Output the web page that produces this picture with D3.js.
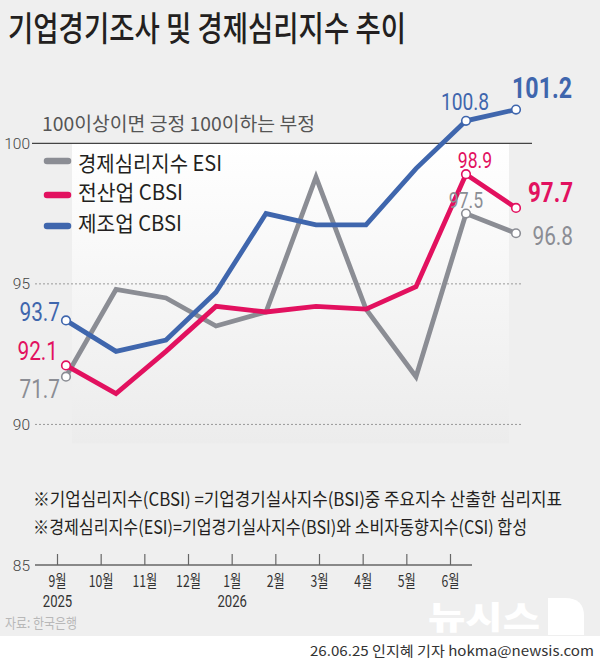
<!DOCTYPE html>
<html><head><meta charset="utf-8">
<script src="https://cdn.jsdelivr.net/npm/d3@7"></script>
<style>
html,body{margin:0;padding:0;background:#efefef;}
svg{display:block;}
</style></head>
<body>
<svg id="c" width="600" height="663"></svg>
<script>
const months = ["9월","10월","11월","12월","1월","2월","3월","4월","5월","6월"];
const years = ["2025","","","","2026","","","","",""];
const esi  = [91.7, 94.8, 94.5, 93.5, 94.0, 98.8, 94.1, 91.7, 97.5, 96.8];
const cbsiAll = [92.1, 91.1, 92.6, 94.2, 94.0, 94.2, 94.1, 94.9, 98.9, 97.7];
const cbsiMfg = [93.7, 92.6, 93.0, 94.7, 97.5, 97.1, 97.1, 99.1, 100.8, 101.2];
const yTicks = [100, 95, 90, 85];
const esiLabels = ["71.7", "97.5", "96.8"];
const allLabels = ["92.1", "98.9", "97.7"];
const mfgLabels = ["93.7", "100.8", "101.2"];
const legendNames = ["경제심리지수 ESI", "전산업 CBSI", "제조업 CBSI"];

const C = {esi:"#8b8d94", all:"#e2115f", mfg:"#3f66ad"};
const svg = d3.select("#c");
const NUM = "Roboto,'Liberation Sans',sans-serif";
const KR = "'Noto Sans CJK KR','Noto Sans',sans-serif";

const y = d3.scaleLinear().domain([85,100]).range([565,143.3]);
const x = d3.scalePoint().domain(months).range([66,516]);
const xAxisScale = d3.scalePoint().domain(months).range([57.5,450.5]);

// Korean text fitted to a width
function kt(t, px, py, size, width, col, weight){
  return svg.append("text").attr("x",px).attr("y",py).attr("font-family",KR).attr("font-size",size)
    .attr("font-weight",weight||400).attr("fill",col||"#231f20")
    .attr("textLength",width).attr("lengthAdjust","spacingAndGlyphs").text(t);
}

// footer white strip
svg.append("rect").attr("x",0).attr("y",636).attr("width",600).attr("height",27).attr("fill","#ffffff");

// panel gradient
const defs = svg.append("defs");
const g = defs.append("linearGradient").attr("id","pg").attr("x1",0).attr("y1",0).attr("x2",0).attr("y2",1);
g.append("stop").attr("offset","0%").attr("stop-color","#ffffff");
g.append("stop").attr("offset","100%").attr("stop-color","#ececec");
svg.append("rect").attr("x",72).attr("y",y(100)).attr("width",437).attr("height",300).attr("fill","url(#pg)");

// title
kt("기업경기조사 및 경제심리지수 추이", 8, 41, 34, 398, "#231f20", 500);

// subtitle
kt("100이상이면 긍정 100이하는 부정", 42, 131, 19, 273, "#555");

// gridlines and y labels
yTicks.forEach(t => {
  if (t === 100) {
    svg.append("line").attr("x1",32).attr("x2",532).attr("y1",y(t)).attr("y2",y(t)).attr("stroke","#444").attr("stroke-width",1.2);
  } else if (t !== 85) {
    svg.append("line").attr("x1",35).attr("x2",522).attr("y1",y(t)).attr("y2",y(t)).attr("stroke","#999").attr("stroke-width",1).attr("stroke-dasharray","2,2");
  }
  svg.append("text").attr("x", 30).attr("y",y(t)+5.5).attr("text-anchor","end").attr("font-family",NUM)
    .attr("font-weight",300).attr("font-size",15.5).attr("fill","#444").text(t);
});

// x axis
const xa = svg.append("g").attr("transform","translate(0,565)");
xa.append("line").attr("x1",35).attr("x2",472).attr("y1",0).attr("y2",0).attr("stroke","#666").attr("stroke-width",1.6);
months.forEach((m,i) => {
  const px = xAxisScale(m);
  xa.append("line").attr("x1",px).attr("x2",px).attr("y1",-11).attr("y2",0).attr("stroke","#666").attr("stroke-width",1.2);
  xa.append("text").attr("transform",`translate(${px},22) scale(0.74,1)`).attr("text-anchor","middle").attr("font-family",KR)
    .attr("font-size",16.5).attr("fill","#333").text(m);
  if (years[i]) xa.append("text").attr("transform",`translate(${px},41.5) scale(0.82,1)`).attr("text-anchor","middle").attr("font-family",NUM)
    .attr("font-size",16).attr("fill","#333").text(years[i]);
});

// legend
const legendRows = [[161,171,144],[195,200,105],[226,231,104]];
legendNames.forEach((n,i) => {
  const [ly, by, w] = legendRows[i];
  const col = [C.esi,C.all,C.mfg][i];
  svg.append("line").attr("x1",47).attr("x2",68).attr("y1",ly).attr("y2",ly).attr("stroke",col)
    .attr("stroke-width",6.5).attr("stroke-linecap","round");
  kt(n, 78, by, 21, w, "#231f20");
});

// lines
const line = d3.line().x((d,i)=>x(months[i])).y(d=>y(d));
[[esi,C.esi],[cbsiAll,C.all],[cbsiMfg,C.mfg]].forEach(([data,col]) => {
  svg.append("path").datum(data).attr("d",line).attr("fill","none").attr("stroke",col)
    .attr("stroke-width",4.8).attr("stroke-linejoin","miter");
});
// circles at first, 5월, 6월
[[esi,C.esi],[cbsiAll,C.all],[cbsiMfg,C.mfg]].forEach(([data,col]) => {
  [0,8,9].forEach(i => {
    svg.append("circle").attr("cx",x(months[i])).attr("cy",y(data[i])).attr("r",4.3)
      .attr("fill","#fff").attr("stroke",col).attr("stroke-width",1.6);
  });
});

// value labels (condensed)
function lab(t,px,py,col,size,anchor,weight){
  svg.append("text").attr("transform",`translate(${px},${py}) scale(0.8,1)`).attr("font-family",NUM).attr("font-size",size)
    .attr("fill",col).attr("text-anchor",anchor||"start").attr("font-weight",weight||400).text(t);
}
lab(mfgLabels[0],60,320.5,C.mfg,26,"end");
lab(allLabels[0],58,360,C.all,26,"end");
lab(esiLabels[0],60,398,C.esi,26,"end");
lab(mfgLabels[1],465,110,C.mfg,24,"middle");
lab(mfgLabels[2],572,98,C.mfg,29,"end",700);
lab(allLabels[1],475,168,C.all,22,"middle");
lab(allLabels[2],573,202,C.all,28,"end",700);
lab(esiLabels[1],466,208,C.esi,22,"middle");
lab(esiLabels[2],573,245,C.esi,26,"end");

// footnotes
kt("※기업심리지수(CBSI) =기업경기실사지수(BSI)중 주요지수 산출한 심리지표", 33, 506, 18, 529);
kt("※경제심리지수(ESI)=기업경기실사지수(BSI)와 소비자동향지수(CSI) 합성", 33, 534, 18, 494);

// source
kt("자료: 한국은행", 5, 627.5, 14, 72, "#b8b8b8");

// logo
kt("뉴시스", 428, 629, 32, 112, "#ffffff", 900);
svg.append("path").attr("d","M548,598 L565,598 Q584,598 584,616 L584,635 L548,635 Z").attr("fill","#ffffff");

// credit
kt("26.06.25 인지혜 기자 hokma@newsis.com", 310, 656, 13.5, 284, "#333");
</script>
</body></html>
